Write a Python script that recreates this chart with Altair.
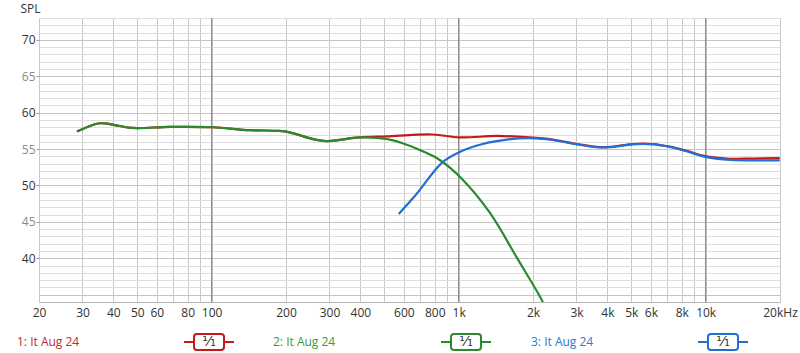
import altair as alt
import pandas as pd

# ---- data ----
red_f = [28.5, 35.2, 40.5, 47.8, 67.6, 101, 142.5, 188, 207, 249, 291, 397, 509, 785,
         1009, 1426, 1937, 2405, 3005, 3622, 4086, 5063, 6100, 7147, 8378, 10090, 12160, 15490, 19950]
red_s = [57.4, 58.55, 58.3, 57.9, 58.05, 58.0, 57.6, 57.5, 57.3, 56.5, 56.1, 56.6, 56.75, 57.0,
         56.6, 56.8, 56.6, 56.3, 55.7, 55.3, 55.3, 55.7, 55.7, 55.35, 54.75, 54.0, 53.7, 53.7, 53.75]

green_f = [28.5, 35.2, 40.5, 47.8, 67.6, 101, 142.5, 188, 207, 249, 291, 397, 509, 593, 715, 838,
           1025, 1335, 1713, 2188, 2300]
green_s = [57.4, 58.55, 58.3, 57.9, 58.05, 58.0, 57.6, 57.5, 57.3, 56.5, 56.1, 56.6, 56.4, 55.8, 54.7, 53.5,
           51.0, 46.3, 40.2, 34.05, 32.3]

blue_f = [572, 674, 861, 1009, 1251, 1564, 1937, 2405, 3005, 3622, 4086, 5063, 6100, 7147,
          8378, 10090, 12160, 15490, 19950]
blue_s = [46.1, 48.8, 53.2, 54.6, 55.7, 56.3, 56.5, 56.25, 55.65, 55.25, 55.25, 55.65, 55.65, 55.3,
          54.7, 53.9, 53.55, 53.45, 53.45]

series_names = ["1: It Aug 24", "2: It Aug 24", "3: It Aug 24"]
line_colors = ["#c41a1a", "#2a8a2e", "#1f6fd6"]
text_colors = ["#c0282d", "#3a9a3a", "#2a7ad0"]

x_grid = [20, 30, 40, 50, 60, 70, 80, 90, 100, 200, 300, 400, 500, 600, 700, 800, 900,
          1000, 2000, 3000, 4000, 5000, 6000, 7000, 8000, 9000, 10000, 20000]
x_label_vals = [20, 30, 40, 50, 60, 80, 100, 200, 300, 400, 600, 800,
                1000, 2000, 3000, 4000, 5000, 6000, 8000, 10000, 20000]
x_label_txt = ["20", "30", "40", "50", "60", "80", "100", "200", "300", "400", "600", "800",
               "1k", "2k", "3k", "4k", "5k", "6k", "8k", "10k", "20kHz"]
decades = [100, 1000, 10000]
y_grid = list(range(35, 74))

FONT = "Open Sans"

vals_js = "[" + ",".join(str(v) for v in x_label_vals) + "]"
txt_js = "[" + ",".join("'" + t + "'" for t in x_label_txt) + "]"
x_label_expr = f"indexof({vals_js}, datum.value) >= 0 ? {txt_js}[indexof({vals_js}, datum.value)] : ''"

x_scale = alt.Scale(type="log", domain=[20, 20000], nice=False)
y_scale = alt.Scale(domain=[34, 73], nice=False, zero=False)

x_axis = alt.Axis(
    values=x_grid, labelExpr=x_label_expr, title=None, domain=False, ticks=False,
    grid=True, gridColor="#c8c8c8", gridWidth=1,
    labelFont=FONT, labelFontSize=12, labelColor="#333333",
    labelPadding=5, labelFlush=False, labelOverlap=False,
)
y_axis = alt.Axis(
    values=y_grid,
    labelExpr="(datum.value % 5 == 0 && datum.value >= 40) ? datum.value : ''",
    labelColor={"condition": {"test": "datum.value % 10 == 0", "value": "#333333"}, "value": "#8a8a8a"},
    tickColor={"condition": {"test": "datum.value % 5 == 0 && datum.value >= 40", "value": "#999999"},
               "value": "transparent"},
    tickSize=3, labelPadding=1, domain=False, grid=True,
    gridColor={"condition": {"test": "datum.value % 5 == 0", "value": "#c4c4c4"}, "value": "#dedede"},
    gridWidth=1,
    labelFont=FONT, labelFontSize=12, labelOverlap=False,
    title="SPL", titleAngle=0, titleX=-19, titleY=-10, titleAlign="left", titleBaseline="middle",
    titleFont=FONT, titleFontSize=12, titleFontWeight="normal", titleColor="#333333",
)


def curve(f, s, color):
    df = pd.DataFrame({"f": f, "spl": s})
    return alt.Chart(df).mark_line(color=color, strokeWidth=2.2, interpolate="catmull-rom", clip=True).encode(
        x=alt.X("f:Q", scale=x_scale, axis=x_axis),
        y=alt.Y("spl:Q", scale=y_scale, axis=y_axis),
    )


decade_rules = alt.Chart(pd.DataFrame({"f": decades})).mark_rule(color="#7c7c7c", strokeWidth=1).encode(
    x=alt.X("f:Q", scale=x_scale, axis=x_axis),
)

layers = [
    decade_rules,
    curve(red_f, red_s, line_colors[0]),
    curve(green_f, green_s, line_colors[1]),
    curve(blue_f, blue_s, line_colors[2]),
]

# ---- legend row at the bottom ----
legend_text_x = [-22, 234, 492]
icon_cx = [170, 427, 684]
LEG_Y = 324
for i in range(3):
    d = pd.DataFrame({"name": [series_names[i]], "frac": ["¹⁄₁"]})
    base = alt.Chart(d)
    layers.append(base.mark_text(align="left", baseline="middle", font=FONT, fontSize=12,
                                 color=text_colors[i]).encode(
        text="name:N", x=alt.value(legend_text_x[i]), y=alt.value(LEG_Y)))
    layers.append(base.mark_rule(color=line_colors[i], strokeWidth=2).encode(
        x=alt.value(icon_cx[i] - 25), x2=alt.value(icon_cx[i] + 25), y=alt.value(LEG_Y)))
    layers.append(base.mark_rect(fill="white", stroke=line_colors[i], strokeWidth=2, cornerRadius=3).encode(
        x=alt.value(icon_cx[i] - 15), x2=alt.value(icon_cx[i] + 15),
        y=alt.value(LEG_Y - 8), y2=alt.value(LEG_Y + 8)))
    layers.append(base.mark_text(align="center", baseline="middle", font="DejaVu Sans", fontSize=14,
                                 color="#333333").encode(
        text="frac:N", x=alt.value(icon_cx[i]), y=alt.value(LEG_Y)))

chart = alt.layer(*layers).properties(
    width=741, height=284,
    autosize=alt.AutoSizeParams(type="none"),
    padding={"left": 39, "top": 18, "right": 20, "bottom": 51},
    background="white",
).configure_view(stroke="#b4b4b4", strokeWidth=1)

chart.save("out.html", embed_options={"renderer": "svg", "actions": False})
